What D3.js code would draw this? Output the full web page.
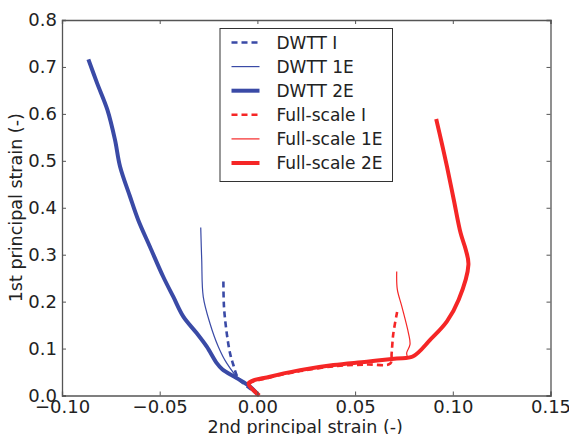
<!DOCTYPE html>
<html>
<head>
<meta charset="utf-8">
<script src="https://cdn.jsdelivr.net/npm/d3@7"></script>
<style>
  body { margin: 0; background: #fff; }
  text { font-family: "DejaVu Sans", sans-serif; fill: #222; }
</style>
</head>
<body>
<svg id="chart" width="569" height="434"></svg>
<script>
// data: [2nd principal strain, 1st principal strain]
var dwttI = [[-0.0174, 0.243], [-0.0171, 0.189], [-0.0157, 0.133], [-0.0140, 0.090], [-0.0123, 0.065],
  [-0.0098, 0.037], [-0.0040, 0.015], [0.0, 0.003]];
var dwtt1E = [[-0.0290, 0.358], [-0.0285, 0.289], [-0.0277, 0.210], [-0.0243, 0.154], [-0.0200, 0.104],
  [-0.0157, 0.069], [-0.0089, 0.033], [-0.0020, 0.015], [0.0, 0.003]];
var dwtt2E = [[-0.0865, 0.716], [-0.0820, 0.665], [-0.0768, 0.609], [-0.0729, 0.545], [-0.0703, 0.488],
  [-0.0652, 0.424], [-0.0610, 0.374], [-0.0550, 0.317], [-0.0482, 0.253], [-0.0430, 0.210],
  [-0.0379, 0.168], [-0.0311, 0.133], [-0.0259, 0.104], [-0.0208, 0.069], [-0.0180, 0.056],
  [-0.0106, 0.037], [-0.0038, 0.019], [0.0, 0.003]];
var fullI = [[0.0715, 0.178], [0.0695, 0.130], [0.0687, 0.090], [0.0680, 0.068], [0.0560, 0.066],
  [0.0410, 0.063], [0.0220, 0.052], [0.0060, 0.038], [-0.0040, 0.024], [0.0, 0.005]];
var full1E = [[0.0713, 0.264], [0.0716, 0.226], [0.0739, 0.190], [0.0773, 0.133], [0.0781, 0.109],
  [0.0764, 0.091], [0.0765, 0.081], [0.0713, 0.078], [0.0560, 0.071], [0.0389, 0.064],
  [0.0218, 0.053], [0.0064, 0.039], [-0.0040, 0.025], [0.001, 0.0]];
var full2E = [[0.001, 0.0], [-0.0045, 0.026], [0.0064, 0.040], [0.0218, 0.054], [0.0389, 0.065],
  [0.0560, 0.072], [0.0713, 0.079], [0.0795, 0.083], [0.0885, 0.119], [0.0970, 0.158],
  [0.1030, 0.204], [0.1080, 0.279], [0.1066, 0.311], [0.1040, 0.346], [0.1005, 0.417],
  [0.0970, 0.488], [0.0944, 0.537], [0.0915, 0.589]];

var seriesNames = ['DWTT I', 'DWTT 1E', 'DWTT 2E', 'Full-scale I', 'Full-scale 1E', 'Full-scale 2E'];
var seriesData = [dwttI, dwtt1E, dwtt2E, fullI, full1E, full2E];
var xTicks = [-0.10, -0.05, 0.00, 0.05, 0.10, 0.15];
var yTicks = [0.0, 0.1, 0.2, 0.3, 0.4, 0.5, 0.6, 0.7, 0.8];

initchart();

function initchart() {
  var blue = '#3a4aa6', red = '#f52626';
  var styles = [
    {color: blue, width: 2.6, dash: '6,4'},
    {color: blue, width: 1.2, dash: null},
    {color: blue, width: 4, dash: null},
    {color: red, width: 2.6, dash: '6,4'},
    {color: red, width: 1.2, dash: null},
    {color: red, width: 4, dash: null}
  ];

  var svg = d3.select('#chart');
  var mLeft = 62, mRight = 550.5, mTop = 20, mBottom = 395.5;

  var x = d3.scaleLinear().domain([-0.10, 0.15]).range([mLeft, mRight]);
  var y = d3.scaleLinear().domain([0, 0.8]).range([mBottom, mTop]);

  var line = d3.line().x(d => x(d[0])).y(d => y(d[1])).curve(d3.curveCatmullRom.alpha(0.5));

  var plot = svg.append('g');
  seriesData.forEach(function(d, i) {
    plot.append('path')
      .attr('d', line(d))
      .attr('fill', 'none')
      .attr('stroke', styles[i].color)
      .attr('stroke-width', styles[i].width)
      .attr('stroke-dasharray', styles[i].dash)
      .attr('stroke-linejoin', 'round');
  });

  // inside ticks on all four sides
  var fmtX = d => d3.format('.2f')(d).replace('-', '\u2212');
  svg.append('g').attr('transform', `translate(0,${mBottom})`)
    .call(d3.axisBottom(x).tickValues(xTicks).tickSize(-4).tickPadding(5).tickFormat(fmtX));
  svg.append('g').attr('transform', `translate(0,${mTop})`)
    .call(d3.axisTop(x).tickValues(xTicks).tickSize(-4).tickFormat(''));
  svg.append('g').attr('transform', `translate(${mLeft},0)`)
    .call(d3.axisLeft(y).tickValues(yTicks).tickSize(-4).tickPadding(5).tickFormat(d3.format('.1f')));
  svg.append('g').attr('transform', `translate(${mRight},0)`)
    .call(d3.axisRight(y).tickValues(yTicks).tickSize(-4).tickFormat(''));

  svg.selectAll('.domain').attr('stroke', '#555').attr('stroke-width', 1.3);
  svg.selectAll('.tick line').attr('stroke', '#555');
  svg.selectAll('.tick text').style('font-size', '18px').style('fill', '#222');

  svg.append('text')
    .attr('x', (mLeft + mRight) / 2 - 1).attr('y', 433)
    .attr('text-anchor', 'middle').style('font-size', '17.5px')
    .text('2nd principal strain (-)');
  svg.append('text')
    .attr('transform', `translate(22,${(mTop + mBottom) / 2}) rotate(-90)`)
    .attr('text-anchor', 'middle').style('font-size', '17.5px')
    .text('1st principal strain (-)');

  // legend
  var lg = svg.append('g');
  lg.append('rect')
    .attr('x', 220).attr('y', 28.5).attr('width', 172.5).attr('height', 153)
    .attr('fill', '#fff').attr('stroke', '#333').attr('stroke-width', 1);
  seriesNames.forEach(function(n, i) {
    var yy = 42.5 + i * 24.1;
    lg.append('line')
      .attr('x1', 231.5).attr('x2', 259.5).attr('y1', yy).attr('y2', yy)
      .attr('stroke', styles[i].color)
      .attr('stroke-width', styles[i].width)
      .attr('stroke-dasharray', styles[i].dash);
    lg.append('text')
      .attr('x', 276.5).attr('y', yy + 6)
      .style('font-size', '17px')
      .text(n);
  });
}
</script>
</body>
</html>
